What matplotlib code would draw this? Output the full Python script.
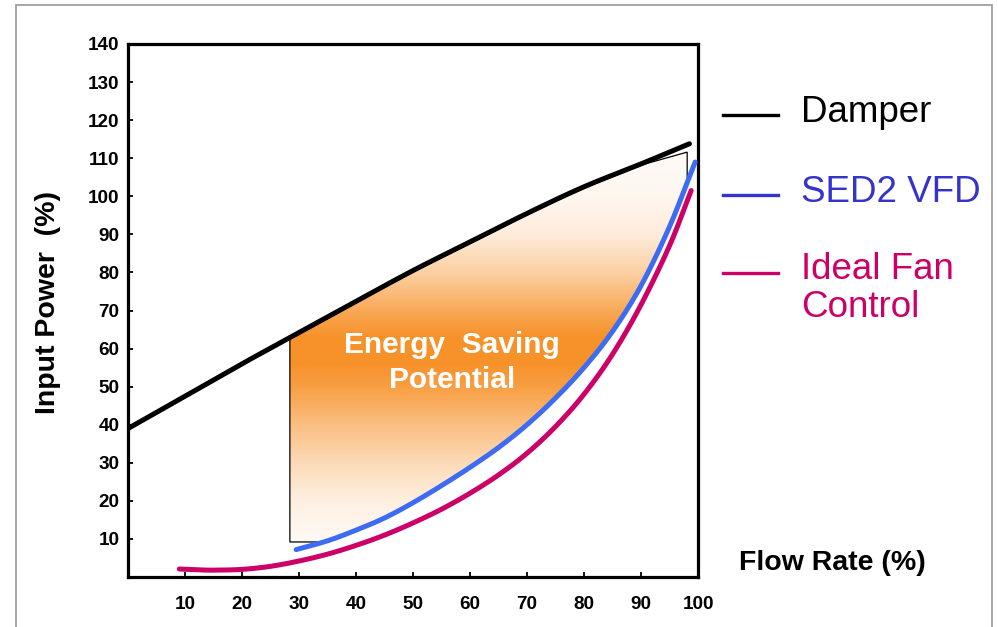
import numpy as np
import matplotlib
matplotlib.use("Agg")
import matplotlib.pyplot as plt
from matplotlib.patches import Polygon, Rectangle
from matplotlib.lines import Line2D
from matplotlib.colors import to_rgb

plt.rcParams['font.family'] = ['Liberation Sans', 'DejaVu Sans']

# flow rate (%) vs input power (%) for each control method
damper_x = [0, 10, 20, 30, 40, 50, 60, 70, 80, 90, 98.5]
damper_y = [39, 47.5, 56, 64.2, 72.4, 80.5, 88, 95.5, 102.5, 108.5, 113.8]

vfd_x = [29.5, 35, 40, 45, 50, 55, 60, 65, 70, 75, 80, 85, 90, 95, 99.5]
vfd_y = [7.2, 9.5, 12.3, 15.5, 19.5, 24, 28.8, 34, 40, 47, 55, 64.5, 76.5, 92, 109]

ideal_x = [9, 12, 15, 20, 25, 30, 35, 40, 45, 50, 55, 60, 65, 70, 75, 80, 85, 90, 95, 98.8]
ideal_y = [2.1, 1.9, 1.8, 2.0, 2.8, 4.2, 6.0, 8.3, 11, 14.2, 17.8, 22, 26.8, 32.5, 39.5,
           48, 58.5, 71.5, 87, 101.5]

# savings region: left/right edges and floor
save_left, save_right = 28.4, 98.1
save_floor, save_top_right = 9.2, 111.6
save_join = 90.5

xticks = [10, 20, 30, 40, 50, 60, 70, 80, 90, 100]
yticks = [10, 20, 30, 40, 50, 60, 70, 80, 90, 100, 110, 120, 130, 140]

black = "#000000"
blue_curve = "#3d6cf2"
blue_text = "#3434cc"
crimson = "#cc0066"


def smooth(xs, ys, n=20):
    # Catmull-Rom pass through the points so the thick lines have no corners
    p = np.column_stack([xs, ys]).astype(float)
    p = np.vstack([2 * p[0] - p[1], p, 2 * p[-1] - p[-2]])
    out = []
    s = np.linspace(0, 1, n, endpoint=False)[:, None]
    for i in range(1, len(p) - 2):
        p0, p1, p2, p3 = p[i - 1], p[i], p[i + 1], p[i + 2]
        seg = 0.5 * ((2 * p1) + (-p0 + p2) * s + (2 * p0 - 5 * p1 + 4 * p2 - p3) * s ** 2
                     + (-p0 + 3 * p1 - 3 * p2 + p3) * s ** 3)
        out.append(seg)
    out.append(p[-2][None, :])
    out = np.vstack(out)
    return out[:, 0], out[:, 1]


dx, dy = smooth(damper_x, damper_y)
bx, by = smooth(vfd_x, vfd_y)
ix, iy = smooth(ideal_x, ideal_y)

fig = plt.figure(figsize=(9.98, 6.27), dpi=100)
ax = fig.add_axes([128 / 998, 1 - 577 / 627, 570 / 998, 533 / 627])
ax.set_xlim(0, 100)
ax.set_ylim(0, 140)

# outline of the energy saving area
x_start = np.interp(save_floor, by, bx)
xb = np.linspace(x_start, save_right, 200)
yb = np.interp(xb, bx, by)
xd = np.linspace(save_join, save_left, 200)
yd = np.interp(xd, dx, dy) - 0.4
verts = [(save_left, save_floor)] + list(zip(xb, yb)) + [(save_right, save_top_right)] \
    + list(zip(xd, yd))
region = Polygon(verts, closed=True, facecolor="none", edgecolor="black", lw=0.9, zorder=2)
ax.add_patch(region)

# vertical white-orange-white gradient clipped to the area
stops_v = [0, 9, 20, 30, 40, 50, 56, 63, 70, 80, 90, 100, 115]
stops_t = [0, 0.02, 0.12, 0.32, 0.58, 0.88, 1.0, 1.0, 0.78, 0.42, 0.15, 0.05, 0.0]
gy = np.linspace(0, 115, 400)
t = np.interp(gy, stops_v, stops_t)
white = np.array(to_rgb("#fffcfa"))
orange = np.array(to_rgb("#f7922a"))
col = white[None, :] * (1 - t[:, None]) + orange[None, :] * t[:, None]
img = np.repeat(col[:, None, :], 2, axis=1)
im = ax.imshow(img, extent=[0, 100, 0, 115], origin="lower", aspect="auto",
               interpolation="bilinear", zorder=1)
im.set_clip_path(region)

ax.plot(dx, dy, color=black, lw=3.6, solid_capstyle="round", zorder=4)
ax.plot(bx, by, color=blue_curve, lw=3.6, solid_capstyle="round", zorder=4)
ax.plot(ix, iy, color=crimson, lw=3.6, solid_capstyle="round", zorder=4)

ax.text(56.8, 56.4, "Energy  Saving\nPotential", color="white", fontsize=21.5,
        fontweight="bold", ha="center", va="center", linespacing=1.3, zorder=5)

for s in ax.spines.values():
    s.set_linewidth(2.3)
ax.set_xticks(xticks)
ax.set_yticks(yticks)
ax.tick_params(axis="both", direction="in", length=3.5, width=1.3, labelsize=13.6)
ax.tick_params(axis="x", pad=14)
ax.tick_params(axis="y", pad=6)
for lab in ax.get_xticklabels() + ax.get_yticklabels():
    lab.set_fontweight("bold")

fig.text(48 / 998, 1 - 303 / 627, "Input Power  (%)", rotation=90, fontsize=20.5,
         fontweight="bold", ha="center", va="center")
fig.text(832 / 998, 1 - 563 / 627, "Flow Rate (%)", fontsize=20.5,
         fontweight="bold", ha="center", va="center")

# legend drawn by hand to the right of the plot
legend_rows = [("Damper", black, 115),
               ("SED2 VFD", blue_text, 195),
               ("Ideal Fan\nControl", crimson, 273)]
for label, c, ypx in legend_rows:
    yf = 1 - ypx / 627
    fig.add_artist(Line2D([723 / 998, 778 / 998], [yf, yf], color=c, lw=2.4))
    if "\n" in label:
        fig.text(801 / 998, yf + 21 / 627, label, color=c, fontsize=26.5, ha="left",
                 va="top", linespacing=1.1)
    else:
        fig.text(801 / 998, yf + 2 / 627, label, color=c, fontsize=26.5, ha="left",
                 va="center")

# thin grey frame around the figure
fig.add_artist(Rectangle((16 / 998, -0.02), 976 / 998, 1 - 5 / 627 + 0.02,
                         transform=fig.transFigure, fill=False, edgecolor="#a0a0a0",
                         lw=1.3, clip_on=False))

fig.savefig("out.png", dpi=100)
